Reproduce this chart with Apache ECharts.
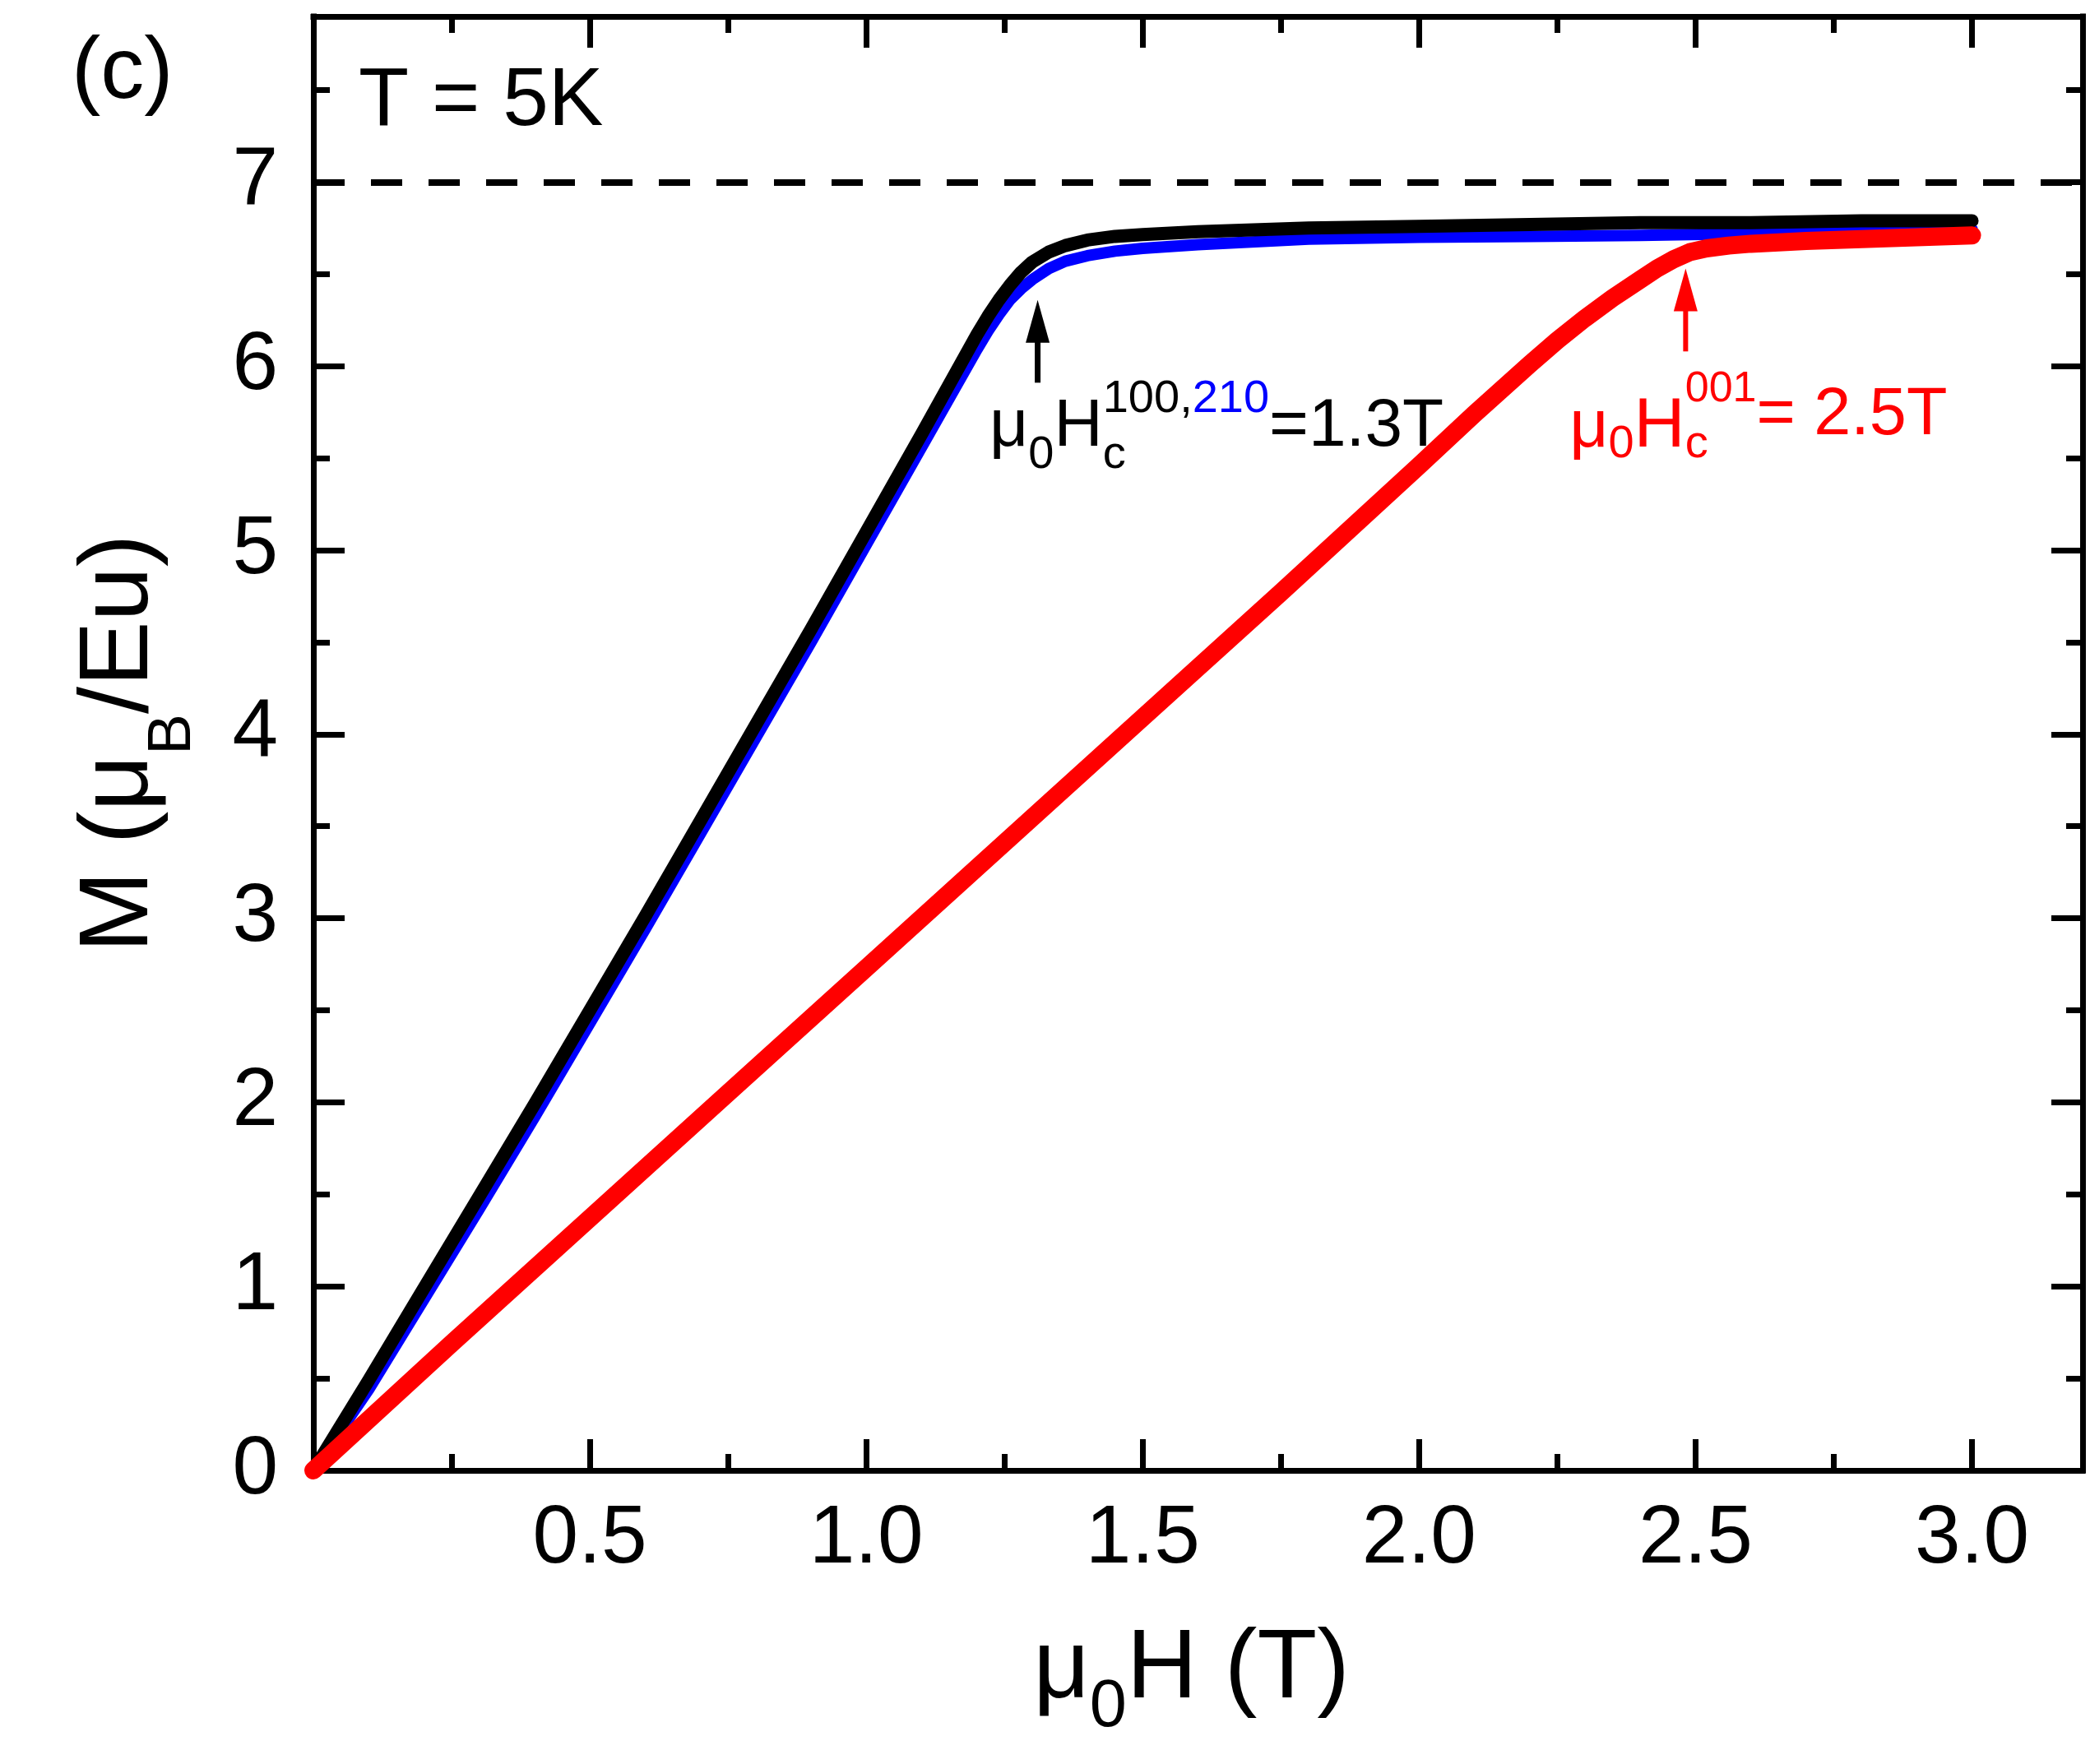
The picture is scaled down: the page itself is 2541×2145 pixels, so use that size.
<!DOCTYPE html>
<html>
<head>
<meta charset="utf-8">
<title>M(H) at T = 5K</title>
<script src="https://cdn.jsdelivr.net/npm/echarts@6/dist/echarts.min.js"></script>
<style>
  html, body { margin: 0; padding: 0; background: #fff; }
  #main { width: 2541px; height: 2145px; }
</style>
</head>
<body>
<div id="main"></div>
<script type="text/javascript">
// values: mu0H in T, M in muB/Eu
var fieldBlack  = [0, 0.1, 0.2, 0.3, 0.4, 0.5, 0.6, 0.7, 0.8, 0.9, 1.0, 1.1, 1.2, 1.22, 1.24, 1.26, 1.28, 1.30, 1.33, 1.36, 1.4, 1.45, 1.5, 1.6, 1.8, 2.0, 2.2, 2.4, 2.6, 2.8, 3.0];
var momentBlack = [0, 0.49, 0.99, 1.49, 1.99, 2.50, 3.01, 3.53, 4.05, 4.57, 5.10, 5.63, 6.17, 6.27, 6.36, 6.44, 6.51, 6.565, 6.62, 6.655, 6.685, 6.705, 6.715, 6.73, 6.75, 6.76, 6.77, 6.78, 6.78, 6.79, 6.79];

var fieldBlue  = [0, 0.1, 0.2, 0.3, 0.4, 0.5, 0.6, 0.7, 0.8, 0.9, 1.0, 1.1, 1.2, 1.22, 1.24, 1.26, 1.28, 1.30, 1.33, 1.36, 1.4, 1.45, 1.5, 1.6, 1.8, 2.0, 2.2, 2.4, 2.6, 2.8, 3.0];
var momentBlue = [0, 0.44, 0.93, 1.42, 1.92, 2.43, 2.94, 3.46, 3.98, 4.50, 5.03, 5.56, 6.09, 6.19, 6.28, 6.36, 6.42, 6.47, 6.53, 6.57, 6.60, 6.625, 6.64, 6.66, 6.69, 6.70, 6.705, 6.71, 6.72, 6.73, 6.745];

var fieldRed  = [0, 0.25, 0.5, 0.75, 1.0, 1.25, 1.5, 1.75, 2.0, 2.1, 2.2, 2.25, 2.3, 2.35, 2.4, 2.43, 2.46, 2.49, 2.52, 2.56, 2.6, 2.7, 2.8, 2.9, 3.0];
var momentRed = [0, 0.69, 1.37, 2.05, 2.73, 3.41, 4.09, 4.77, 5.46, 5.74, 6.01, 6.14, 6.26, 6.37, 6.47, 6.53, 6.58, 6.62, 6.64, 6.655, 6.665, 6.68, 6.69, 6.70, 6.71];

var saturationMoment = 7;

var xTickLabels = ['0.5', '1.0', '1.5', '2.0', '2.5', '3.0'];
var yTickLabels = ['0', '1', '2', '3', '4', '5', '6', '7'];

// critical field arrows: field, tail moment, tip moment
var arrowField = [1.31, 2.482];
var arrowTail  = [5.91, 6.08];
var arrowTip   = [6.36, 6.53];

var FONT = '"Liberation Sans", Arial, Helvetica, sans-serif';
var AXIS_W = 7;
var BLUE = '#0000ff', RED = '#ff0000';

var chart = echarts.init(document.getElementById('main'));

function pairs(xs, ys) {
    return xs.map(function (x, i) { return [x, ys[i]]; });
}

function frameAxis(dim, pos, step, len, isMain) {
    return {
        type: 'value',
        position: pos,
        min: 0,
        max: dim === 'x' ? 3.2 : 7.9,
        interval: step,
        axisLine: { show: isMain, onZero: false, lineStyle: { color: '#000', width: AXIS_W, cap: 'square' } },
        axisTick: { show: true, inside: true, length: len, lineStyle: { color: '#000', width: AXIS_W } },
        axisLabel: { show: false },
        splitLine: { show: false },
        minorTick: { show: false },
        silent: true
    };
}

var xMain = frameAxis('x', 'bottom', 0.5, 38, true);
xMain.axisLabel = {
    show: true, margin: 34, color: '#000', fontSize: 100, fontFamily: FONT,
    formatter: function (v) {
        var s = v.toFixed(1);
        return xTickLabels.indexOf(s) >= 0 ? s : '';
    }
};
var yMain = frameAxis('y', 'left', 1, 38, true);
yMain.axisLabel = {
    show: true, margin: 43, color: '#000', fontSize: 100, fontFamily: FONT,
    formatter: function (v) {
        var s = String(Math.round(v));
        return (Math.abs(v - Math.round(v)) < 1e-6 && yTickLabels.indexOf(s) >= 0) ? s : '';
    }
};

function curve(name, xs, ys, color, width) {
    return {
        name: name, type: 'line', xAxisIndex: 0, yAxisIndex: 0,
        data: pairs(xs, ys),
        showSymbol: false, symbol: 'none',
        lineStyle: { color: color, width: width, join: 'round', cap: 'round' }
    };
}

var blackSeries = curve('H || 100', fieldBlack, momentBlack, '#000', 16);
blackSeries.markLine = {
    silent: true, symbol: 'none', label: { show: false },
    lineStyle: { color: '#000', width: 8, type: [38, 32] },
    data: [{ yAxis: saturationMoment }]
};

chart.setOption({
    animation: false,
    backgroundColor: '#fff',
    grid: { left: 381, right: 9, top: 20, bottom: 357, containLabel: false, outerBoundsMode: 'none' },
    xAxis: [
        xMain,
        frameAxis('x', 'bottom', 0.25, 20, false),
        frameAxis('x', 'top', 0.5, 38, true),
        frameAxis('x', 'top', 0.25, 20, false)
    ],
    yAxis: [
        yMain,
        frameAxis('y', 'left', 0.5, 20, false),
        frameAxis('y', 'right', 1, 38, true),
        frameAxis('y', 'right', 0.5, 20, false)
    ],
    series: [
        curve('H || 210', fieldBlue, momentBlue, BLUE, 14),
        blackSeries,
        curve('H || 001', fieldRed, momentRed, RED, 22)
    ]
});

// ---- annotations ----
var measure = document.createElement('canvas').getContext('2d');
function widthOf(text, size) {
    measure.font = size + 'px ' + FONT;
    return measure.measureText(text).width;
}

// lay text pieces on one baseline; stack:true puts a piece above the previous one
function textRun(pieces, x0, baseline, color) {
    var els = [], x = x0, runStart = x0, runEnd = x0;
    pieces.forEach(function (p) {
        var start = p.stack ? runStart : x;
        var w = widthOf(p.t, p.s);
        els.push({
            type: 'text', silent: true,
            x: start, y: baseline + (p.dy || 0) - 0.35 * p.s,
            style: { text: p.t, font: p.s + 'px ' + FONT, fill: p.c || color || '#000', align: 'left', verticalAlign: 'middle' }
        });
        if (p.stack) {
            x = Math.max(runEnd, start + w);
        } else {
            runStart = start; runEnd = start + w; x = runEnd;
        }
    });
    return { els: els, width: x - x0 };
}

function px(h, m) {
    return chart.convertToPixel({ xAxisIndex: 0, yAxisIndex: 0 }, [h, m]);
}

function arrow(i, color, shaftW) {
    var tail = px(arrowField[i], arrowTail[i]);
    var tip = px(arrowField[i], arrowTip[i]);
    var headLen = 52, headHalf = 14.5;
    return [
        { type: 'line', silent: true,
          shape: { x1: tail[0], y1: tail[1], x2: tip[0], y2: tip[1] + headLen - 2 },
          style: { stroke: color, lineWidth: shaftW } },
        { type: 'polygon', silent: true,
          shape: { points: [[tip[0], tip[1]], [tip[0] - headHalf, tip[1] + headLen], [tip[0] + headHalf, tip[1] + headLen]] },
          style: { fill: color } }
    ];
}

var graphics = [];

// panel letter and temperature
graphics = graphics.concat(textRun([{ t: '(c)', s: 106 }], 87, 127).els);
var tPos = px(0.082, 7.276);
graphics = graphics.concat(textRun([{ t: 'T = 5K', s: 100 }], tPos[0], tPos[1]).els);

// critical field labels
var bPos = px(1.223, 5.54);
graphics = graphics.concat(textRun([
    { t: '\u03bc', s: 82 },
    { t: '0', s: 56, dy: 25 },
    { t: 'H', s: 82 },
    { t: 'c', s: 56, dy: 25 },
    { t: '100,', s: 56, dy: -43, stack: true },
    { t: '210', s: 56, dy: -43, c: BLUE },
    { t: '=1.3T', s: 82 }
], bPos[0], bPos[1], '#000').els);

var rPos = px(2.272, 5.535);
graphics = graphics.concat(textRun([
    { t: '\u03bc', s: 82 },
    { t: '0', s: 56, dy: 11 },
    { t: 'H', s: 86 },
    { t: 'c', s: 56, dy: 11 },
    { t: '001', s: 52, dy: -57, stack: true },
    { t: '= 2.5T', s: 81, dy: -15 }
], rPos[0], rPos[1], RED).els);

graphics = graphics.concat(arrow(0, '#000', 7), arrow(1, RED, 6));

// axis titles
var left0 = px(0, 0), right0 = px(3.2, 7.9);
var gridCx = (left0[0] + right0[0]) / 2;
var gridCy = (left0[1] + right0[1]) / 2;

var xTitlePieces = [{ t: '\u03bc', s: 119 }, { t: '0', s: 81, dy: 32 }, { t: 'H (T)', s: 119 }];
var xw = textRun(xTitlePieces, 0, 0).width;
graphics = graphics.concat(textRun(xTitlePieces, gridCx - xw / 2 - 8, 2073).els);

var yTitlePieces = [{ t: 'M (\u03bc', s: 119 }, { t: 'B', s: 75, dy: 49 }, { t: '/Eu)', s: 119 }];
var yw = textRun(yTitlePieces, 0, 0).width;
graphics.push({
    type: 'group', x: 188, y: gridCy, rotation: Math.PI / 2, silent: true,
    children: textRun(yTitlePieces, -yw / 2, 0).els
});

chart.setOption({ graphic: graphics });
</script>
</body>
</html>
